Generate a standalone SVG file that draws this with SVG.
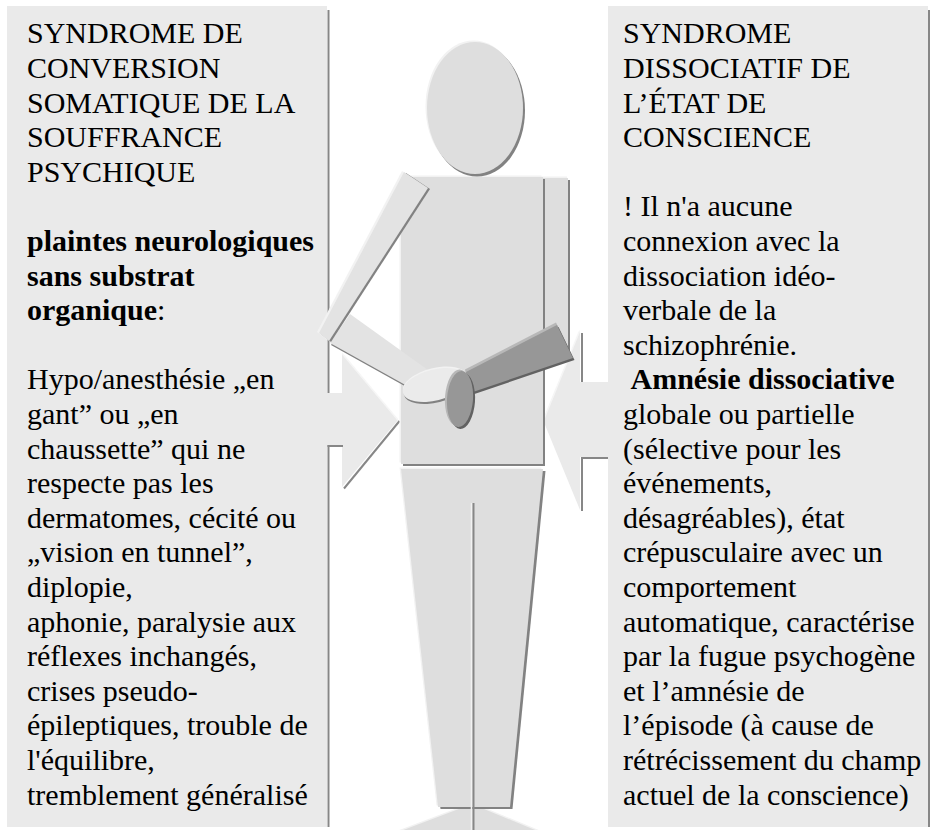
<svg xmlns="http://www.w3.org/2000/svg" xmlns:xlink="http://www.w3.org/1999/xlink" width="930" height="830" viewBox="0 0 930 830">
  <style>
    .panel { fill: #eaeaea; }
    .edge { stroke: #878787; stroke-width: 2; fill: none; }
    .lite { stroke: #f6f6f6; stroke-width: 1.5; fill: none; }
    .t { font-size: 30px; fill: #000; }
    .b { font-weight: bold; }
    .hl { fill: #f2f2f2; }
    .sh { fill: #828282; }
    .body { fill: #dedede; }
    .limb { fill: #e3e3e3; }
    .hand { fill: #ebebeb; }
    .dark { fill: #979797; }
    .dark-hl { fill: #b8b8b8; }
    .dark-sh { fill: #626262; }
  </style>

  <defs>
    <!-- body parts of the standing figure; fill comes from each <use> -->
    <ellipse id="head" cx="475" cy="108" rx="48" ry="66"/>
    <rect id="arm-r" x="542" y="178" width="26" height="176"/>
    <rect id="torso" x="401" y="177" width="142" height="287"/>
    <polygon id="legs" points="401,469 543,469 510,807 438,807"/>
    <polygon id="feet" points="398,832 472,804 540,832"/>
    <polygon id="upper-arm-l" points="404,172 428,188 329,341 319,333"/>
    <polygon id="forearm-l" points="350,314 428,370 418,392 330,343"/>
    <ellipse id="hand-l" cx="435" cy="385" rx="33" ry="15.5" transform="rotate(-14 435 385)"/>
    <polygon id="forearm-r" points="466,372 557,325 573,358 470,393"/>
    <ellipse id="hand-r" cx="460" cy="399" rx="13" ry="28" transform="rotate(4 460 399)"/>
  </defs>

  <!-- left callout: conversion syndrome -->
  <g id="panel-conversion">
    <rect class="panel" x="7" y="6" width="320" height="821"/>
    <line class="edge" x1="328.5" y1="10" x2="328.5" y2="827"/>
    <text class="t" font-family="'Liberation Serif', Tinos, 'DejaVu Serif', serif">
      <tspan x="27" y="43.3">SYNDROME DE</tspan>
      <tspan x="27" y="77.9">CONVERSION</tspan>
      <tspan x="27" y="112.5">SOMATIQUE DE LA</tspan>
      <tspan x="27" y="147.1">SOUFFRANCE</tspan>
      <tspan x="27" y="181.7">PSYCHIQUE</tspan>
      <tspan x="27" y="250.9" class="b">plaintes neurologiques</tspan>
      <tspan x="27" y="285.5" class="b">sans substrat</tspan>
      <tspan x="27" y="320.1"><tspan class="b">organique</tspan>:</tspan>
      <tspan x="27" y="389.3">Hypo/anesthésie „en</tspan>
      <tspan x="27" y="423.9">gant” ou „en</tspan>
      <tspan x="27" y="458.5">chaussette” qui ne</tspan>
      <tspan x="27" y="493.1">respecte pas les</tspan>
      <tspan x="27" y="527.7">dermatomes, cécité ou</tspan>
      <tspan x="27" y="562.3">„vision en tunnel”,</tspan>
      <tspan x="27" y="596.9">diplopie,</tspan>
      <tspan x="27" y="631.5">aphonie, paralysie aux</tspan>
      <tspan x="27" y="666.1">réflexes inchangés,</tspan>
      <tspan x="27" y="700.7">crises pseudo-</tspan>
      <tspan x="27" y="735.3">épileptiques, trouble de</tspan>
      <tspan x="27" y="769.9">l'équilibre,</tspan>
      <tspan x="27" y="804.5">tremblement généralisé</tspan>
    </text>
  </g>

  <!-- right callout: dissociative syndrome -->
  <g id="panel-dissociation">
    <rect class="panel" x="608" y="6" width="320" height="821"/>
    <line class="edge" x1="929" y1="10" x2="929" y2="827"/>
    <text class="t" font-family="'Liberation Serif', Tinos, 'DejaVu Serif', serif">
      <tspan x="623" y="43.3">SYNDROME</tspan>
      <tspan x="623" y="77.9">DISSOCIATIF DE</tspan>
      <tspan x="623" y="112.5">L’ÉTAT DE</tspan>
      <tspan x="623" y="147.1">CONSCIENCE</tspan>
      <tspan x="623" y="216.3">! Il n'a aucune</tspan>
      <tspan x="623" y="250.9">connexion avec la</tspan>
      <tspan x="623" y="285.5">dissociation idéo-</tspan>
      <tspan x="623" y="320.1">verbale de la</tspan>
      <tspan x="623" y="354.7">schizophrénie.</tspan>
      <tspan x="630.5" y="389.3" class="b">Amnésie dissociative</tspan>
      <tspan x="623" y="423.9">globale ou partielle</tspan>
      <tspan x="623" y="458.5">(sélective pour les</tspan>
      <tspan x="623" y="493.1">événements,</tspan>
      <tspan x="623" y="527.7">désagréables), état</tspan>
      <tspan x="623" y="562.3">crépusculaire avec un</tspan>
      <tspan x="623" y="596.9">comportement</tspan>
      <tspan x="623" y="631.5">automatique, caractérise</tspan>
      <tspan x="623" y="666.1">par la fugue psychogène</tspan>
      <tspan x="623" y="700.7">et l’amnésie de</tspan>
      <tspan x="623" y="735.3">l’épisode (à cause de</tspan>
      <tspan x="623" y="769.9">rétrécissement du champ</tspan>
      <tspan x="623" y="804.5">actuel de la conscience)</tspan>
    </text>
  </g>

  <!-- callout pointers aimed at the figure -->
  <g id="connectors">
    <polygon class="panel" points="325,393 342,393 342,353 398,420 342,487 342,445 325,445"/>
    <line class="lite" x1="342.5" y1="354" x2="397.5" y2="419.5"/>
    <polyline class="edge" points="327.5,446 343,446"/>
    <line class="edge" x1="399.5" y1="421" x2="344" y2="488.5"/>

    <polygon class="panel" points="610,382 580,382 580,330 543,420 580,510 580,457 610,457"/>
    <line class="lite" x1="579.5" y1="331" x2="544" y2="419"/>
    <line class="edge" x1="582" y1="333" x2="582" y2="382"/>
    <polyline class="edge" points="582,511 582,458 608,458"/>
  </g>

  <!-- standing figure -->
  <g id="figure">
    <use xlink:href="#feet" href="#feet" class="hl" transform="translate(0,-1.5)"/>
    <use xlink:href="#feet" href="#feet" class="body"/>

    <use xlink:href="#arm-r" href="#arm-r" class="sh" transform="translate(2,2)"/>
    <use xlink:href="#arm-r" href="#arm-r" class="hl" transform="translate(-1,-1.5)"/>
    <use xlink:href="#arm-r" href="#arm-r" class="body"/>

    <use xlink:href="#torso" href="#torso" class="hl" transform="translate(-1.5,-1.5)"/>
    <use xlink:href="#torso" href="#torso" class="sh" transform="translate(2,2)"/>
    <use xlink:href="#torso" href="#torso" class="body"/>

    <use xlink:href="#legs" href="#legs" class="hl" transform="translate(-1.5,-1.5)"/>
    <use xlink:href="#legs" href="#legs" class="sh" transform="translate(2.5,2)"/>
    <use xlink:href="#legs" href="#legs" class="body"/>
    <line x1="471.5" y1="503" x2="471.5" y2="830" stroke="#f2f2f2" stroke-width="1.5"/>
    <line class="edge" x1="473.5" y1="503" x2="473.5" y2="830"/>

    <use xlink:href="#head" href="#head" class="hl" transform="translate(-1.5,-1.5)"/>
    <use xlink:href="#head" href="#head" class="sh" transform="translate(2,2.5)"/>
    <use xlink:href="#head" href="#head" class="body"/>

    <use xlink:href="#forearm-l" href="#forearm-l" class="sh" transform="translate(1,2)"/>
    <use xlink:href="#forearm-l" href="#forearm-l" class="limb"/>

    <use xlink:href="#upper-arm-l" href="#upper-arm-l" class="hl" transform="translate(-2,-1)"/>
    <use xlink:href="#upper-arm-l" href="#upper-arm-l" class="sh" transform="translate(2,1)"/>
    <use xlink:href="#upper-arm-l" href="#upper-arm-l" class="limb"/>

    <use xlink:href="#hand-l" href="#hand-l" class="sh" transform="translate(1,2)"/>
    <use xlink:href="#hand-l" href="#hand-l" class="hl" transform="translate(0,-1.5)"/>
    <use xlink:href="#hand-l" href="#hand-l" class="hand"/>

    <use xlink:href="#forearm-r" href="#forearm-r" class="dark-hl" transform="translate(-1,-2.5)"/>
    <use xlink:href="#forearm-r" href="#forearm-r" class="dark-sh" transform="translate(1.5,2)"/>
    <use xlink:href="#forearm-r" href="#forearm-r" class="dark"/>

    <use xlink:href="#hand-r" href="#hand-r" class="dark-hl" transform="translate(-2,-1.5)"/>
    <use xlink:href="#hand-r" href="#hand-r" class="dark-sh" transform="translate(2,2)"/>
    <use xlink:href="#hand-r" href="#hand-r" class="dark"/>
  </g>
</svg>
